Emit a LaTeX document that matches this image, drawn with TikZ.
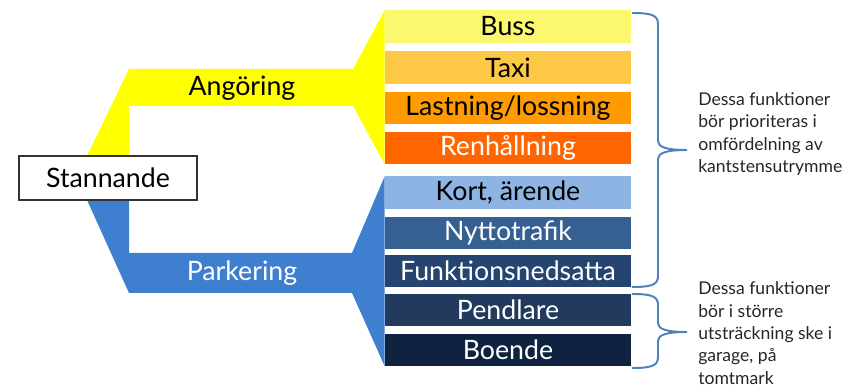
\documentclass[tikz,border=0pt]{standalone}
\usepackage{fontspec}
\setmainfont{Lato}
\usetikzlibrary{calc}
\definecolor{angyellow}{HTML}{FFFF00}
\definecolor{parkblue}{HTML}{3F7FD0}
\definecolor{bussc}{HTML}{FBF870}
\definecolor{taxic}{HTML}{FCC845}
\definecolor{lastc}{HTML}{FF9A00}
\definecolor{renhc}{HTML}{FF6600}
\definecolor{kortc}{HTML}{8DB4E2}
\definecolor{nyttoc}{HTML}{376092}
\definecolor{funkc}{HTML}{254470}
\definecolor{pendc}{HTML}{213A5E}
\definecolor{boendec}{HTML}{0F2340}
\definecolor{bracec}{HTML}{4F81BD}
\def\kantbrace(#1:#2:#3){\draw[line width=1.4pt, color=bracec] (632, #1) .. controls (651, #1) and (658, #1+2) .. (658, #1+11) -- (658, #3-9) .. controls (658, #3-3) and (666, #3) .. (687, #3) .. controls (666, #3) and (658, #3+3) .. (658, #3+9) -- (658, #2-11) .. controls (658, #2-2) and (651, #2) .. (632, #2);}

\begin{document}
\begin{tikzpicture}[x=0.025cm, y=-0.025cm,
	bar/.style={minimum width=6.15cm, minimum height=0.8cm, inner sep=0pt, font=\fontsize{19}{22}\selectfont},
	note/.style={align=left, inner sep=0pt, anchor=west, font=\fontsize{12.5}{15.9}\selectfont, color=black!85}]
			%%%%% START %%%%%
			
			\useasboundingbox (0, 0) rectangle (848, 386);
			
			\node[bar, fill=bussc] (buss) at (508, 26.5) {Buss};
			\node[bar, fill=taxic] (taxi) at (508, 67.5) {Taxi};
			\node[bar, fill=lastc] (lastning) at (508, 108) {Lastning/lossning};
			\node[bar, fill=renhc, text=white] (renhallning) at (508, 148) {Renhållning};
			
			\node[bar, fill=kortc] (kort) at (508, 192.5) {Kort, ärende};
			\node[bar, fill=nyttoc, text=white] (nytto) at (508, 233) {Nyttotrafik};
			\node[bar, fill=funkc, text=white] (funktion) at (508, 271) {Funktionsnedsatta};
			\node[bar, fill=pendc, text=white] (pendlare) at (508, 310) {Pendlare};
			\node[bar, fill=boendec, text=white] (boende) at (508, 350) {Boende};
			
			\fill[angyellow] (87, 156) -- (129, 69) -- (353, 69) -- (buss.north west) -- (renhallning.south west) -- (353, 106) -- (129, 106) -- (129, 156) -- cycle;
			\fill[parkblue] (87, 200) -- (129, 293) -- (352, 293) -- (boende.south west) -- (kort.north west) -- (352, 253) -- (129, 253) -- (129, 200) -- cycle;
			
			\node[font=\fontsize{19}{22}\selectfont] (angoring) at (242, 88) {Angöring};
			\node[font=\fontsize{19}{22}\selectfont, text=white] (parkering) at (242, 273) {Parkering};
			
			\node[draw=black!80, line width=0.9pt, fill=white, minimum width=4.45cm, minimum height=1.1cm, font=\fontsize{19}{22}\selectfont] (stannande) at (108, 178) {Stannande};
			
			\kantbrace(13:287:150)
			\kantbrace(294:368:332)
			
			\node[note] (prio) at (698, 134) {Dessa funktioner\\bör prioriteras i\\omfördelning av\\kantstensutrymme};
			\node[note] (garage) at (698, 333) {Dessa funktioner\\bör i större\\utsträckning ske i\\garage, på\\tomtmark};
			
			%%%%% END %%%%%
		\end{tikzpicture}
\end{document}
